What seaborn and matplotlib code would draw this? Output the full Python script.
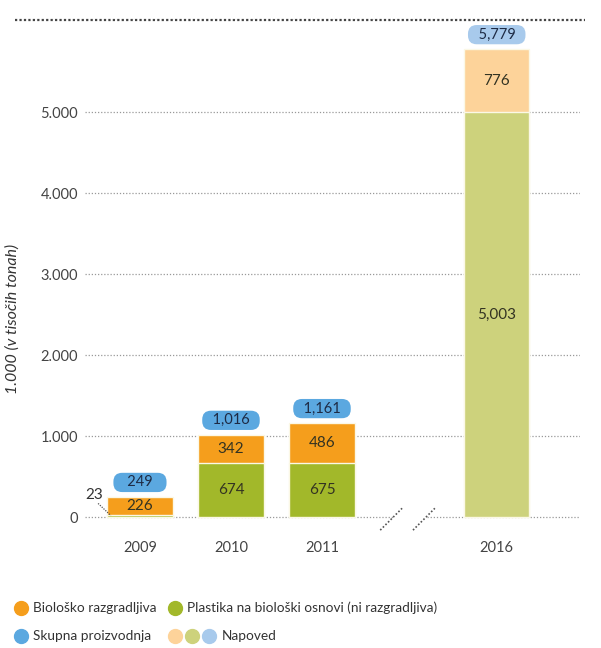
"""
Proizvodnja bioplastike 2009-2011 in napoved za 2016 (v tisocih tonah)
"""
import pandas as pd
import matplotlib.pyplot as plt
import seaborn as sns
from matplotlib.lines import Line2D

sns.set_style("white")
plt.rcParams["font.family"] = ["Lato", "DejaVu Sans"]

# ---------------------------------------------------------
# DATA
# ---------------------------------------------------------
years = ["2009", "2010", "2011", "2016"]
positions = [0, 1, 2, 3.92]          # gap before the forecast year
biodegradable = [226, 342, 486, 776]  # Biološko razgradljiva
biobased = [23, 674, 675, 5003]       # Plastika na biološki osnovi
totals = [249, 1016, 1161, 5779]      # Skupna proizvodnja

orange_cols = ["#F59E1C", "#F59E1C", "#F59E1C", "#FDD39A"]
green_cols = ["#A2B82A", "#A2B82A", "#A2B82A", "#CDD27C"]
blue_cols = ["#5BA8E0", "#5BA8E0", "#5BA8E0", "#A8CAEC"]

df = pd.DataFrame({"pos": positions, "year": years,
                   "bio": biodegradable, "based": biobased, "total": totals})

# ---------------------------------------------------------
# PLOT
# ---------------------------------------------------------
fig = plt.figure(figsize=(6.01, 6.48), dpi=100)
ax = fig.add_axes([85 / 601, 113 / 648, 495 / 601, 515 / 648])

# stacked bars: full height in orange, then the bio-based part in green on top
sns.barplot(data=df, x="pos", y="total", hue="year", palette=orange_cols,
            native_scale=True, width=0.72, errorbar=None, legend=False,
            saturation=1, edgecolor="#FBF8E6", linewidth=1, ax=ax)
sns.barplot(data=df, x="pos", y="based", hue="year", palette=green_cols,
            native_scale=True, width=0.72, errorbar=None, legend=False,
            saturation=1, edgecolor="#FBF8E6", linewidth=1, ax=ax)

ax.set_xlim(-0.604, 4.835)
ax.set_ylim(-220, 6140)
ax.set_xticks(positions)
ax.set_xticklabels(years)
ax.set_yticks(range(0, 6000, 1000))
ax.set_yticklabels([f"{v:,}".replace(",", ".") for v in range(0, 6000, 1000)])
ax.tick_params(axis="both", length=0, labelsize=10.5, labelcolor="#444444")
ax.tick_params(axis="x", pad=4)
ax.tick_params(axis="y", pad=5)
ax.set_xlabel("")
ax.set_ylabel("1.000 (v tisočih tonah)", fontsize=11.5, style="italic", color="#333333")
ax.yaxis.set_label_coords(-0.131, 0.42)
for s in ax.spines.values():
    s.set_visible(False)

ax.grid(axis="y", linestyle=(0, (1, 1.5)), color="#999999", linewidth=0.9)
ax.set_axisbelow(True)
ax.yaxis.get_gridlines()[0].set_visible(False)
# baseline with an axis break before the forecast
ax.hlines(0, -0.604, 2.78, colors="#999999", linestyles=(0, (1, 1.5)), linewidth=0.9, zorder=0)
ax.hlines(0, 3.15, 4.835, colors="#999999", linestyles=(0, (1, 1.5)), linewidth=0.9, zorder=0)
for x0 in (2.64, 3.0):
    ax.plot([x0, x0 + 0.24], [-160, 110], linestyle=(0, (1, 1.2)),
            color="#555555", linewidth=1.2, clip_on=False)

# segment labels
for p, b, g in zip(positions, biodegradable, biobased):
    ax.text(p, g + b / 2, f"{b:,}", ha="center", va="center",
            fontsize=11, color="#333322")
    if g > 100:
        ax.text(p, g / 2, f"{g:,}", ha="center", va="center",
                fontsize=11, color="#333322")

# small bio-based value for 2009 with a dotted leader
ax.text(positions[0] - 0.5, 270, f"{biobased[0]}", ha="center", va="center",
        fontsize=11, color="#333333")
ax.plot([positions[0] - 0.46, positions[0] - 0.32], [170, 20],
        linestyle=(0, (1, 1)), color="#555555", linewidth=0.9)

# totals in rounded blue boxes
for p, t, c in zip(positions, totals, blue_cols):
    ax.annotate(f"{t:,}".center(9), xy=(p, t), xytext=(0, 10.5), textcoords="offset points",
                ha="center", va="center", fontsize=10.5, color="#1E2B45",
                bbox=dict(boxstyle="round,pad=0.18,rounding_size=0.6", fc=c, ec="none"))

# top dotted rule
fig.add_artist(Line2D([15 / 601, 585 / 601], [1 - 20 / 648, 1 - 20 / 648],
                      transform=fig.transFigure, color="#444444",
                      linestyle=(0, (1, 1)), linewidth=1.6))

# ---------------------------------------------------------
# LEGEND (drawn by hand to keep the grouped forecast markers)
# ---------------------------------------------------------
def dot(xp, yp, col):
    fig.add_artist(Line2D([xp / 601], [1 - yp / 648], transform=fig.transFigure,
                          marker="o", markersize=10, color=col, linestyle=""))

def label(xp, yp, txt):
    fig.text(xp / 601, 1 - yp / 648, txt, ha="left", va="center",
             fontsize=9.8, color="#333333")

dot(21, 608, orange_cols[0]); label(33, 608, "Biološko razgradljiva")
dot(175, 608, green_cols[0]); label(187, 608, "Plastika na biološki osnovi (ni razgradljiva)")
dot(21, 636, blue_cols[0]); label(33, 636, "Skupna proizvodnja")
dot(175, 636, orange_cols[3]); dot(192, 636, green_cols[3]); dot(209, 636, blue_cols[3])
label(222, 636, "Napoved")

plt.savefig("out.png", dpi=100)
plt.close()
